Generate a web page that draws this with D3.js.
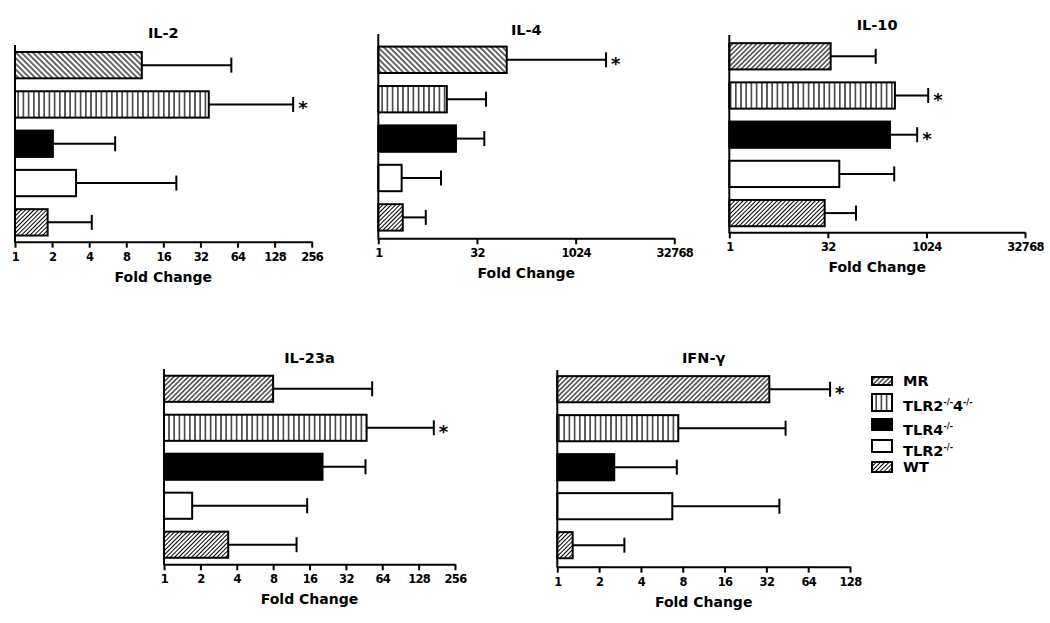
<!DOCTYPE html>
<html>
<head>
<meta charset="utf-8">
<script src="https://cdn.jsdelivr.net/npm/d3@7"></script>
<style>
  html, body { margin: 0; padding: 0; background: #fff; }
  svg { display: block; }
  text { font-family: "DejaVu Sans", sans-serif; font-weight: bold; fill: #000; }
</style>
</head>
<body>
<svg id="chart" width="1050" height="623"></svg>
<script>
// ---------- data ----------
const groups = ["MR", "TLR2-/-4-/-", "TLR4-/-", "TLR2-/-", "WT"];

const il2Means  = [10.7, 37.4, 2.03, 3.13, 1.84];
const il2Err    = [57, 181, 6.5, 20.4, 4.2];
const il2Sig    = [false, true, false, false, false];

const il4Means  = [91, 11.1, 15.3, 2.27, 2.36];
const il4Err    = [2980, 44, 41.4, 9.05, 5.3];
const il4Sig    = [true, false, false, false, false];

const il10Means = [35.3, 338, 284, 47.8, 28.6];
const il10Err   = [172, 1090, 740, 330, 86];
const il10Sig   = [false, true, true, false, false];

const il23Means = [8.0, 47.5, 20.5, 1.71, 3.4];
const il23Err   = [52.8, 171, 46.5, 15.3, 12.5];
const il23Sig   = [false, true, false, false, false];

const ifnMeans  = [33.6, 7.43, 2.57, 6.73, 1.29];
const ifnErr    = [92, 44, 7.25, 39.7, 3.04];
const ifnSig    = [true, false, false, false, false];

const ticks256   = [1, 2, 4, 8, 16, 32, 64, 128, 256];
const ticks32768 = [1, 32, 1024, 32768];
const ticks128   = [1, 2, 4, 8, 16, 32, 64, 128];

const titles = ["IL-2", "IL-4", "IL-10", "IL-23a", "IFN-γ"];
const xLabel = "Fold Change";

// ---------- setup ----------
const svg = d3.select("#chart");
const defs = svg.append("defs");

function hatch(id, angle, spacing, sw) {
  const p = defs.append("pattern").attr("id", id)
    .attr("patternUnits", "userSpaceOnUse")
    .attr("width", spacing).attr("height", spacing)
    .attr("patternTransform", `rotate(${angle})`);
  p.append("rect").attr("width", spacing).attr("height", spacing).attr("fill", "#fff");
  p.append("line").attr("x1", spacing / 2).attr("x2", spacing / 2)
    .attr("y1", 0).attr("y2", spacing)
    .attr("stroke", "#000").attr("stroke-width", sw);
}
hatch("mrBack", -45, 4.0, 1.2);
hatch("mrFwd", 45, 3.4, 1.1);
hatch("wtFwd", 45, 3.0, 1.0);
hatch("vert", 0, 5.2, 1.2);

const fillsBack = ["url(#mrBack)", "url(#vert)", "#000", "#fff", "url(#wtFwd)"];
const fillsFwd  = ["url(#mrFwd)", "url(#vert)", "#000", "#fff", "url(#wtFwd)"];

const panels = [
  { title: titles[0], means: il2Means, err: il2Err, sig: il2Sig, ticks: ticks256, max: 256,
    x0: 15, x1: 311.7, axisTop: 45, bandTop: 45.5, bandBot: 242, axisY: 241.7, titleY: 38, fills: fillsBack },
  { title: titles[1], means: il4Means, err: il4Err, sig: il4Sig, ticks: ticks32768, max: 32768,
    x0: 378.3, x1: 674.3, axisTop: 34, bandTop: 40.1, bandBot: 237.1, axisY: 238.3, titleY: 35, fills: fillsBack },
  { title: titles[2], means: il10Means, err: il10Err, sig: il10Sig, ticks: ticks32768, max: 32768,
    x0: 729.3, x1: 1025, axisTop: 35, bandTop: 36.7, bandBot: 232.7, axisY: 232.3, titleY: 30, fills: fillsFwd },
  { title: titles[3], means: il23Means, err: il23Err, sig: il23Sig, ticks: ticks256, max: 256,
    x0: 164, x1: 455, axisTop: 369, bandTop: 369.3, bandBot: 564.2, axisY: 564.3, titleY: 362.5, fills: fillsFwd },
  { title: titles[4], means: ifnMeans, err: ifnErr, sig: ifnSig, ticks: ticks128, max: 128,
    x0: 557.3, x1: 850, axisTop: 370, bandTop: 369.7, bandBot: 564.7, axisY: 566.7, titleY: 362.7, fills: fillsFwd }
];

panels.forEach(p => {
  const g = svg.append("g");
  const x = d3.scaleLog().base(2).domain([1, p.max]).range([p.x0, p.x1]);
  const y = d3.scaleBand().domain(groups).range([p.bandTop, p.bandBot])
    .paddingInner(0.33).paddingOuter(0.165);
  const bh = y.bandwidth();

  // title
  g.append("text").attr("x", (p.x0 + p.x1) / 2).attr("y", p.titleY)
    .attr("text-anchor", "middle").attr("font-size", 14.5).text(p.title);

  // bars
  groups.forEach((grp, i) => {
    const yc = y(grp) + bh / 2;
    const xe = x(p.means[i]);
    const xr = x(p.err[i]);
    // error bar
    g.append("line").attr("x1", xe).attr("x2", xr).attr("y1", yc).attr("y2", yc)
      .attr("stroke", "#000").attr("stroke-width", 2);
    g.append("line").attr("x1", xr).attr("x2", xr).attr("y1", yc - 7.5).attr("y2", yc + 7.5)
      .attr("stroke", "#000").attr("stroke-width", 2);
    g.append("rect").attr("x", x(1)).attr("y", y(grp))
      .attr("width", xe - x(1)).attr("height", bh)
      .attr("fill", p.fills[i]).attr("stroke", "#000").attr("stroke-width", 2);
    if (p.sig[i]) {
      g.append("text").attr("x", xr + 5).attr("y", yc + 10)
        .attr("font-family", "Liberation Sans, sans-serif")
        .attr("font-size", 18).text("*");
    }
  });

  // x axis
  const ax = d3.axisBottom(x).tickValues(p.ticks).tickFormat(d3.format("d"))
    .tickSizeInner(6).tickSizeOuter(0).tickPadding(5);
  const axg = g.append("g").attr("transform", `translate(0,${p.axisY})`).call(ax);
  axg.select(".domain").attr("stroke", "#000").attr("stroke-width", 2);
  axg.selectAll(".tick line").attr("stroke", "#000").attr("stroke-width", 2);
  axg.selectAll(".tick text").attr("font-size", 11.5).attr("font-family", "DejaVu Sans, sans-serif")
    .attr("font-weight", "bold").attr("fill", "#000").attr("letter-spacing", -0.7);

  // y axis line
  g.append("line").attr("x1", p.x0).attr("x2", p.x0).attr("y1", p.axisTop).attr("y2", p.axisY + 1)
    .attr("stroke", "#000").attr("stroke-width", 2);

  // x label
  g.append("text").attr("x", (p.x0 + p.x1) / 2).attr("y", p.axisY + 40)
    .attr("text-anchor", "middle").attr("font-size", 14).text(xLabel);
});

// ---------- legend ----------
const legendItems = [
  { base: "MR", sups: [], fill: "url(#mrFwd)", sy: 377, sh: 8, ty: 386 },
  { base: "TLR2", sups: ["-/-", "4", "-/-"], fill: "url(#vert)", sy: 394, sh: 17, ty: 410.5 },
  { base: "TLR4", sups: ["-/-"], fill: "#000", sy: 419, sh: 11, ty: 435 },
  { base: "TLR2", sups: ["-/-"], fill: "#fff", sy: 440, sh: 12, ty: 456 },
  { base: "WT", sups: [], fill: "url(#wtFwd)", sy: 462, sh: 10, ty: 471.5 }
];
const lg = svg.append("g");
legendItems.forEach((it, i) => {
  lg.append("rect").attr("x", 872).attr("y", it.sy).attr("width", 20).attr("height", it.sh)
    .attr("fill", it.fill).attr("stroke", "#000").attr("stroke-width", 2);
  const t = lg.append("text").attr("x", 903).attr("y", it.ty).attr("font-size", 14.5);
  t.append("tspan").text(it.base);
  if (it.sups.length === 3) {
    t.append("tspan").attr("font-size", 8).attr("dy", -6).text(it.sups[0]);
    t.append("tspan").attr("font-size", 14.5).attr("dy", 6).text(it.sups[1]);
    t.append("tspan").attr("font-size", 8).attr("dy", -6).text(it.sups[2]);
  } else if (it.sups.length === 1) {
    t.append("tspan").attr("font-size", 8).attr("dy", -6).text(it.sups[0]);
  }
});
</script>
</body>
</html>
